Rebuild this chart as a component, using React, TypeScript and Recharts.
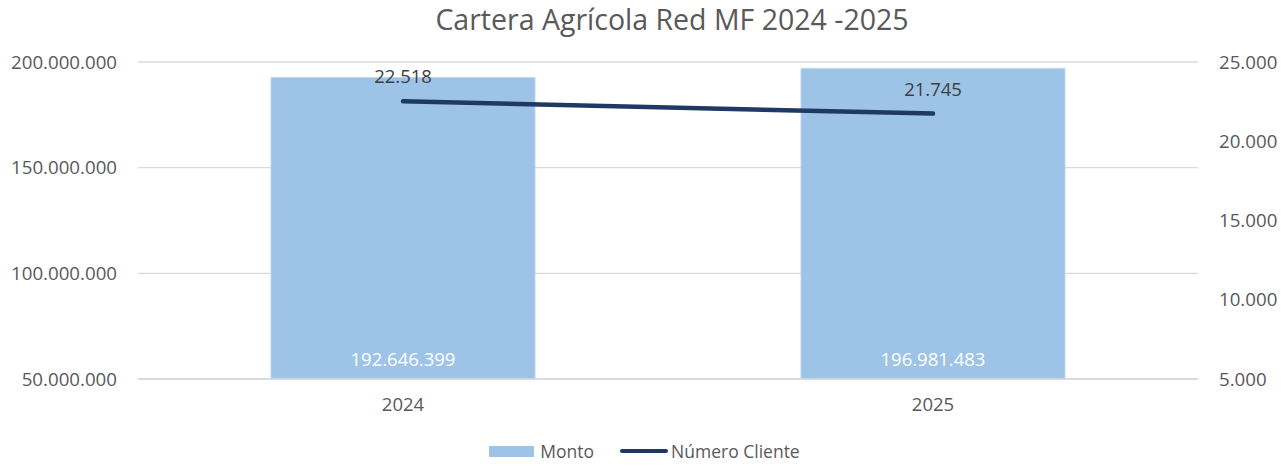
import React from 'react';
import {
  ComposedChart, Bar, Line, XAxis, YAxis, CartesianGrid, LabelList, Legend,
} from 'recharts';

const years = ['2024', '2025'];
const monto = [192646399, 196981483];
const clientes = [22518, 21745];
const leftTicks = [50000000, 100000000, 150000000, 200000000];
const rightTicks = [5000, 10000, 15000, 20000, 25000];

const data = years.map((y, i) => ({ year: y, monto: monto[i], clientes: clientes[i] }));

const FONT = '"Open Sans", sans-serif';
const BAR = '#9DC3E6';
const LINE = '#203864';
const TXT = '#595959';

const fmt = (v: number) => String(Math.round(v)).replace(/\B(?=(\d{3})+(?!\d))/g, '.');

function LegendBox() {
  return (
    <div style={{ display: 'flex', justifyContent: 'center', alignItems: 'center', height: 30, fontFamily: FONT, fontSize: 17.5, color: TXT, marginLeft: 8 }}>
      <span style={{ width: 45, height: 11, background: BAR, display: 'inline-block', marginRight: 6 }} />
      <span>Monto</span>
      <span style={{ width: 48, height: 4, background: LINE, borderRadius: 2, display: 'inline-block', marginLeft: 26, marginRight: 3 }} />
      <span>Número Cliente</span>
    </div>
  );
}

export default function App() {
  return (
    <div style={{ position: 'absolute', left: 0, top: 0, width: 1281, height: 466, background: '#fff' }}>
      <div style={{ position: 'absolute', left: 0, width: 1344, top: 0, textAlign: 'center', fontFamily: FONT, fontSize: 28.5, color: TXT }}>
        Cartera Agrícola Red MF 2024 -2025
      </div>
      <ComposedChart width={1281} height={466} data={data} margin={{ top: 62, right: 0, bottom: 0, left: 0 }}>
        <CartesianGrid yAxisId="left" vertical={false} stroke="#D9D9D9" strokeWidth={1.3} />
        <XAxis dataKey="year" axisLine={{ stroke: '#D9D9D9', strokeWidth: 1.3 }} tickLine={false} height={57}
          tick={{ fill: TXT, fontSize: 18.5, fontFamily: FONT }} tickMargin={13} />
        <YAxis yAxisId="left" width={138} domain={[50000000, 200000000]} ticks={leftTicks} axisLine={false} tickLine={false}
          tickFormatter={fmt} tick={{ fill: TXT, fontSize: 18.7, fontFamily: FONT }} tickMargin={15} />
        <YAxis yAxisId="right" orientation="right" width={83} domain={[5000, 25000]} ticks={rightTicks} axisLine={false} tickLine={false}
          tickFormatter={fmt} tick={{ fill: TXT, fontSize: 18.7, fontFamily: FONT }} tickMargin={15} />
        <Legend verticalAlign="bottom" height={30} content={() => <LegendBox />} />
        <Bar yAxisId="left" dataKey="monto" fill={BAR} stroke="#BDD7EE" strokeWidth={1} barSize={264} isAnimationActive={false}>
          <LabelList dataKey="monto" position="insideBottom" offset={13} formatter={(v: any) => fmt(Number(v))}
            style={{ fill: '#fff', fontSize: 18.5, fontFamily: FONT }} />
        </Bar>
        <Line yAxisId="right" dataKey="clientes" stroke={LINE} strokeWidth={4.5} strokeLinecap="round" dot={false} activeDot={false} isAnimationActive={false}>
          <LabelList dataKey="clientes" position="top" offset={18} formatter={(v: any) => fmt(Number(v))}
            style={{ fill: '#404040', fontSize: 18.5, fontFamily: FONT }} />
        </Line>
      </ComposedChart>
    </div>
  );
}
